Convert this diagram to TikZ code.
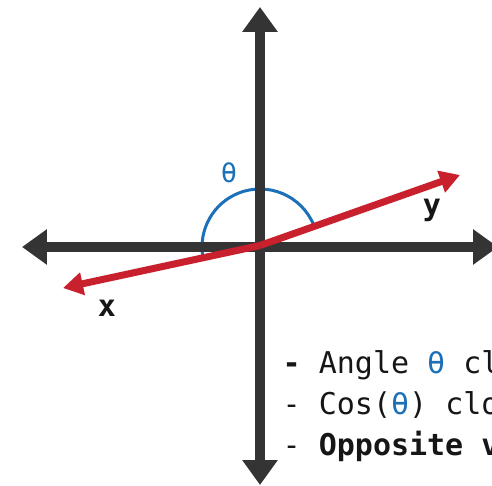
\documentclass[tikz,border=0pt]{standalone}
\usepackage{fontspec}
\usetikzlibrary{arrows.meta}
\newfontfamily\codefont{DejaVu Sans Mono}
\definecolor{axisgray}{RGB}{52,52,52}
\definecolor{vecred}{RGB}{200,32,44}
\definecolor{angblue}{RGB}{28,112,184}
\definecolor{txtblack}{RGB}{22,22,22}
\begin{document}
\begin{tikzpicture}[x=1pt,y=1pt,
  axisline/.style={draw=axisgray,line width=9.5pt,-{Triangle[length=25pt,width=34pt]}},
  vecline/.style={draw=vecred,line width=7pt,-{Triangle[length=20pt,width=22pt]}},
  anglearc/.style={draw=angblue,line width=3pt},
  axlabel/.style={inner sep=0pt,text=txtblack,font=\codefont\bfseries\fontsize{30}{30}\selectfont},
  noteline/.style={inner sep=0pt,anchor=base west,text=txtblack,font=\codefont\fontsize{30}{30}\selectfont}]
\useasboundingbox (-260,-238) rectangle (232,247);
\clip (-260,-238) rectangle (232,247);
\coordinate (O) at (0,0);
\coordinate (top) at (0,240);
\coordinate (bottom) at (0,-238);
\coordinate (left) at (-238,0);
\coordinate (right) at (238,0);
\coordinate (V) at (0,1.5);
\coordinate (xtip) at (-197,-41);
\coordinate (ytip) at (200,72);
% angle arc
\draw[anglearc] ([shift={(22:58)}]O) arc[start angle=22,end angle=189,radius=58];
\node[inner sep=0pt,text=angblue,font=\codefont\fontsize{27}{27}\selectfont] (theta) at (-31,74) {θ};
% axes
\draw[axisline] (O) -- (top);
\draw[axisline] (O) -- (bottom);
\draw[axisline] (O) -- (left);
\draw[axisline] (O) -- (right);
% vectors
\draw[vecline] (V) -- (xtip);
\draw[vecline] (V) -- (ytip);
\node[axlabel] (xl) at (-153,-61) {x};
\node[axlabel] (yl) at (172,37) {y};
% notes
\node[noteline] (n1) at (22.5,-126) {\bfseries-\mdseries{} Angle \textcolor{angblue}{θ} cl};
\node[noteline] (n2) at (22.5,-167) {- Cos(\textcolor{angblue}{θ}) clo};
\node[noteline] (n3) at (22.5,-208) {- \bfseries Opposite v};
\end{tikzpicture}
\end{document}
